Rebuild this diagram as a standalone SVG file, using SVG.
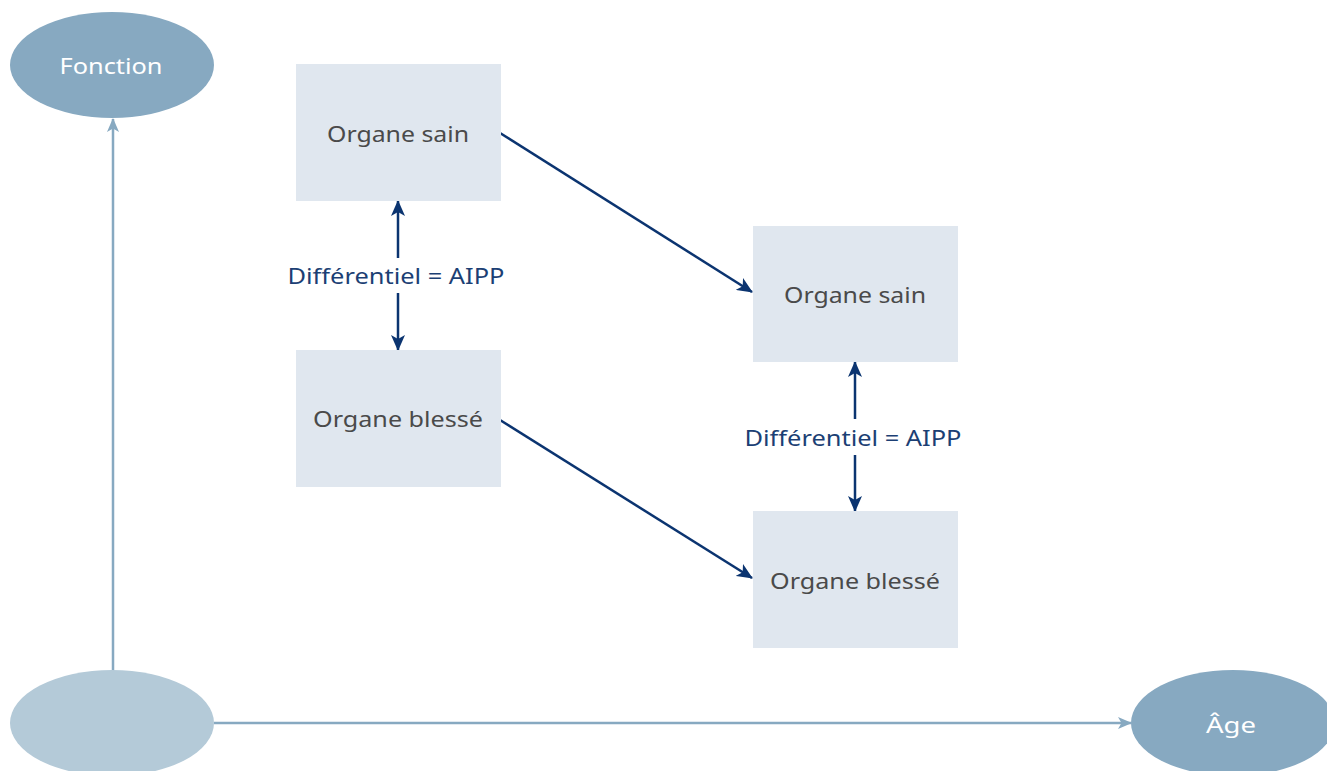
<svg xmlns="http://www.w3.org/2000/svg" width="1327" height="771" viewBox="0 0 1327 771">
  <style>
    text { font-family: "Noto Sans", Lato, sans-serif; font-size: 22px; text-anchor: middle; font-variant-ligatures: none; }
    .box { fill: #e0e7ef; }
    .box-label { fill: #4a4a4a; }
    .axis-node { fill: #87a9c1; }
    .axis-label { fill: #ffffff; }
    .axis { stroke: #87a9c1; stroke-width: 2.5; fill: none; }
    .flow { stroke: #0b3470; stroke-width: 2.5; fill: none; }
    .diff-label { fill: #1c3f74; }
  </style>
  <defs>
    <marker id="axis-head" viewBox="0 0 14 12" refX="13" refY="6" markerWidth="14" markerHeight="12" markerUnits="userSpaceOnUse" orient="auto">
      <path d="M0,0 L14,6 L0,12 L3.5,6 Z" fill="#87a9c1"/>
    </marker>
    <marker id="flow-head" viewBox="0 0 16 14" refX="15" refY="7" markerWidth="16" markerHeight="14" markerUnits="userSpaceOnUse" orient="auto">
      <path d="M0,0 L16,7 L0,14 L4,7 Z" fill="#0b3470"/>
    </marker>
  </defs>

  <rect width="1327" height="771" fill="#ffffff"/>

  <!-- connectors -->
  <g id="connectors">
    <line class="axis" x1="113" y1="671" x2="113" y2="119" marker-end="url(#axis-head)"/>
    <line class="axis" x1="214" y1="723" x2="1131" y2="723" marker-end="url(#axis-head)"/>
    <line class="flow" x1="500" y1="133" x2="752" y2="292" marker-end="url(#flow-head)"/>
    <line class="flow" x1="500" y1="420" x2="752" y2="578" marker-end="url(#flow-head)"/>
    <line class="flow" x1="398" y1="258" x2="398" y2="201" marker-end="url(#flow-head)"/>
    <line class="flow" x1="398" y1="293" x2="398" y2="350" marker-end="url(#flow-head)"/>
    <line class="flow" x1="855" y1="419" x2="855" y2="362" marker-end="url(#flow-head)"/>
    <line class="flow" x1="855" y1="455" x2="855" y2="511" marker-end="url(#flow-head)"/>
    <text class="diff-label" x="396" y="284" textLength="217" lengthAdjust="spacingAndGlyphs">Différentiel = AIPP</text>
    <text class="diff-label" x="853" y="446" textLength="217" lengthAdjust="spacingAndGlyphs">Différentiel = AIPP</text>
  </g>

  <!-- axis nodes -->
  <g id="fonction">
    <ellipse class="axis-node" cx="112" cy="65" rx="102" ry="53"/>
    <text class="axis-label" x="111" y="74" textLength="103" lengthAdjust="spacingAndGlyphs">Fonction</text>
  </g>
  <g id="origin">
    <ellipse cx="112" cy="723" rx="102" ry="53" fill="#b4cad8"/>
  </g>
  <g id="age">
    <ellipse class="axis-node" cx="1233" cy="723" rx="102" ry="53"/>
    <text class="axis-label" x="1231" y="733" textLength="50" lengthAdjust="spacingAndGlyphs">Âge</text>
  </g>

  <!-- organ boxes -->
  <g id="organe-sain-1">
    <rect class="box" x="296" y="64" width="205" height="137"/>
    <text class="box-label" x="398" y="142" textLength="142" lengthAdjust="spacingAndGlyphs">Organe sain</text>
  </g>
  <g id="organe-blesse-1">
    <rect class="box" x="296" y="350" width="205" height="137"/>
    <text class="box-label" x="398" y="427" textLength="170" lengthAdjust="spacingAndGlyphs">Organe blessé</text>
  </g>
  <g id="organe-sain-2">
    <rect class="box" x="753" y="226" width="205" height="136"/>
    <text class="box-label" x="855" y="303" textLength="142" lengthAdjust="spacingAndGlyphs">Organe sain</text>
  </g>
  <g id="organe-blesse-2">
    <rect class="box" x="753" y="511" width="205" height="137"/>
    <text class="box-label" x="855" y="589" textLength="170" lengthAdjust="spacingAndGlyphs">Organe blessé</text>
  </g>
</svg>
